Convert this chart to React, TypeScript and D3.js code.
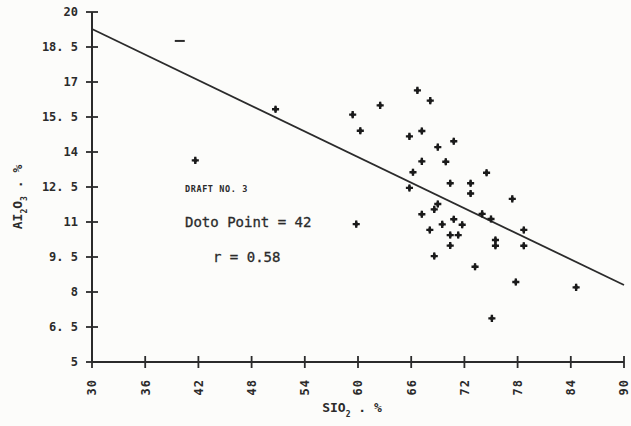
import * as d3 from "d3";

// SiO2 % vs Al2O3 %
const sio2 = [
  66.7, 68.15, 62.5, 59.4, 60.26, 65.8, 67.2, 70.8, 69.0, 67.2,
  69.9, 66.2, 74.5, 65.8, 70.4, 72.7, 72.7, 77.4, 69.0, 68.6,
  67.2, 74.0, 75.0, 69.5, 70.8, 71.75, 68.1, 70.4, 71.3, 70.4,
  75.5, 75.5, 78.7, 78.7, 68.6, 73.2, 77.8, 75.1, 59.8, 84.6,
  50.7, 41.65,
];
const al2o3 = [
  16.64, 16.2, 16.0, 15.6, 14.91, 14.67, 14.9, 14.46, 14.21, 13.6,
  13.58, 13.13, 13.11, 12.46, 12.66, 12.66, 12.22, 11.99, 11.77, 11.54,
  11.33, 11.35, 11.13, 10.9, 11.12, 10.88, 10.66, 10.44, 10.44, 9.99,
  10.23, 9.98, 10.66, 9.98, 9.54, 9.08, 8.43, 6.87, 10.91, 8.2,
  15.83, 13.64,
];

// stray dash mark on the sheet
const dashX = [39.9];
const dashY = [18.76];

// fitted line end points
const fitX = [30, 90];
const fitY = [19.27, 8.3];

const xTicks = [30, 36, 42, 48, 54, 60, 66, 72, 78, 84, 90];
const xTickLabels = ["30", "36", "42", "48", "54", "60", "66", "72", "78", "84", "90"];
const yTicks = [5, 6.5, 8, 9.5, 11, 12.5, 14, 15.5, 17, 18.5, 20];
const yTickLabels = ["5", "6. 5", "8", "9. 5", "11", "12. 5", "14", "15. 5", "17", "18. 5", "20"];

const width = 631;
const height = 426;
const ink = "#2b2b2b";
const mono = "'DejaVu Sans Mono', monospace";

export default function App() {
  const x = d3.scaleLinear([30, 90], [92, 624]);
  const y = d3.scaleLinear([5, 20], [362, 12]);

  const pts = sio2.map((v, i) => [v, al2o3[i]]);
  const fit = d3.line().x(d => x(d[0])).y(d => y(d[1]));
  const cross = d3.symbol(d3.symbolCross, 28)();
  const blob = d3.symbol(d3.symbolDiamond, 16)();

  return (
    <svg width={width} height={height} style={{ position: "absolute", left: 0, top: 0, background: "#fcfcfa" }}>
      {/* axes */}
      <line x1={x(30)} x2={x(90)} y1={y(5)} y2={y(5)} stroke={ink} strokeWidth={2} />
      <line x1={x(30)} x2={x(30)} y1={y(5)} y2={y(20)} stroke={ink} strokeWidth={2} />

      {yTicks.map((t, i) => (
        <g key={"y" + t}>
          <line x1={x(30) - 6} x2={x(30) + 6} y1={y(t)} y2={y(t)} stroke={ink} strokeWidth={1.8} />
          <text x={78} y={y(t)} dy="0.36em" textAnchor="end" fontFamily={mono} fontWeight={700}
            fontSize={12} fill={ink}>{yTickLabels[i]}</text>
        </g>
      ))}

      {xTicks.map((t, i) => (
        <g key={"x" + t}>
          <line x1={x(t)} x2={x(t)} y1={y(5) - 6} y2={y(5) + 6} stroke={ink} strokeWidth={1.8} />
          <text transform={`translate(${x(t)},${379}) rotate(-90)`} dy="0.36em" textAnchor="end"
            fontFamily={mono} fontWeight={700} fontSize={12} letterSpacing={1} fill={ink}>{xTickLabels[i]}</text>
        </g>
      ))}

      {/* axis titles */}
      <text x={352} y={412} textAnchor="middle" fontFamily={mono} fontWeight={700} fontSize={13} fill={ink}>
        SIO<tspan fontSize={8} dy={5}>2</tspan><tspan dy={-5}> . %</tspan>
      </text>
      <text transform="translate(17,197) rotate(-90)" textAnchor="middle" dy="0.36em" fontFamily={mono}
        fontWeight={700} fontSize={13} fill={ink}>
        AI<tspan fontSize={8} dy={5}>2</tspan><tspan dy={-5}>O</tspan><tspan fontSize={8} dy={5}>3</tspan><tspan dy={-5}> . %</tspan>
      </text>

      {/* regression line */}
      <path d={fit(fitX.map((v, i) => [v, fitY[i]]))} fill="none" stroke={ink} strokeWidth={1.8} />

      {/* points */}
      {pts.map((d, i) => (
        <g key={i} transform={`translate(${x(d[0])},${y(d[1])})`} fill="#1a1a1a">
          <path d={cross} />
          <path d={blob} />
        </g>
      ))}
      {dashX.map((v, i) => (
        <line key={"d" + i} x1={x(v) - 5} x2={x(v) + 5} y1={y(dashY[i])} y2={y(dashY[i])} stroke={ink} strokeWidth={2} />
      ))}

      {/* annotations */}
      <text x={185} y={192} fontFamily={mono} fontWeight={700} fontSize={8.5} letterSpacing={0.6} fill={ink}>DRAFT NO. 3</text>
      <text x={185} y={227} fontFamily={mono} fontSize={14} fill={ink} stroke={ink} strokeWidth={0.3}>Doto Point = 42</text>
      <text x={213} y={262} fontFamily={mono} fontSize={14} fill={ink} stroke={ink} strokeWidth={0.3}>r = 0.58</text>
    </svg>
  );
}
